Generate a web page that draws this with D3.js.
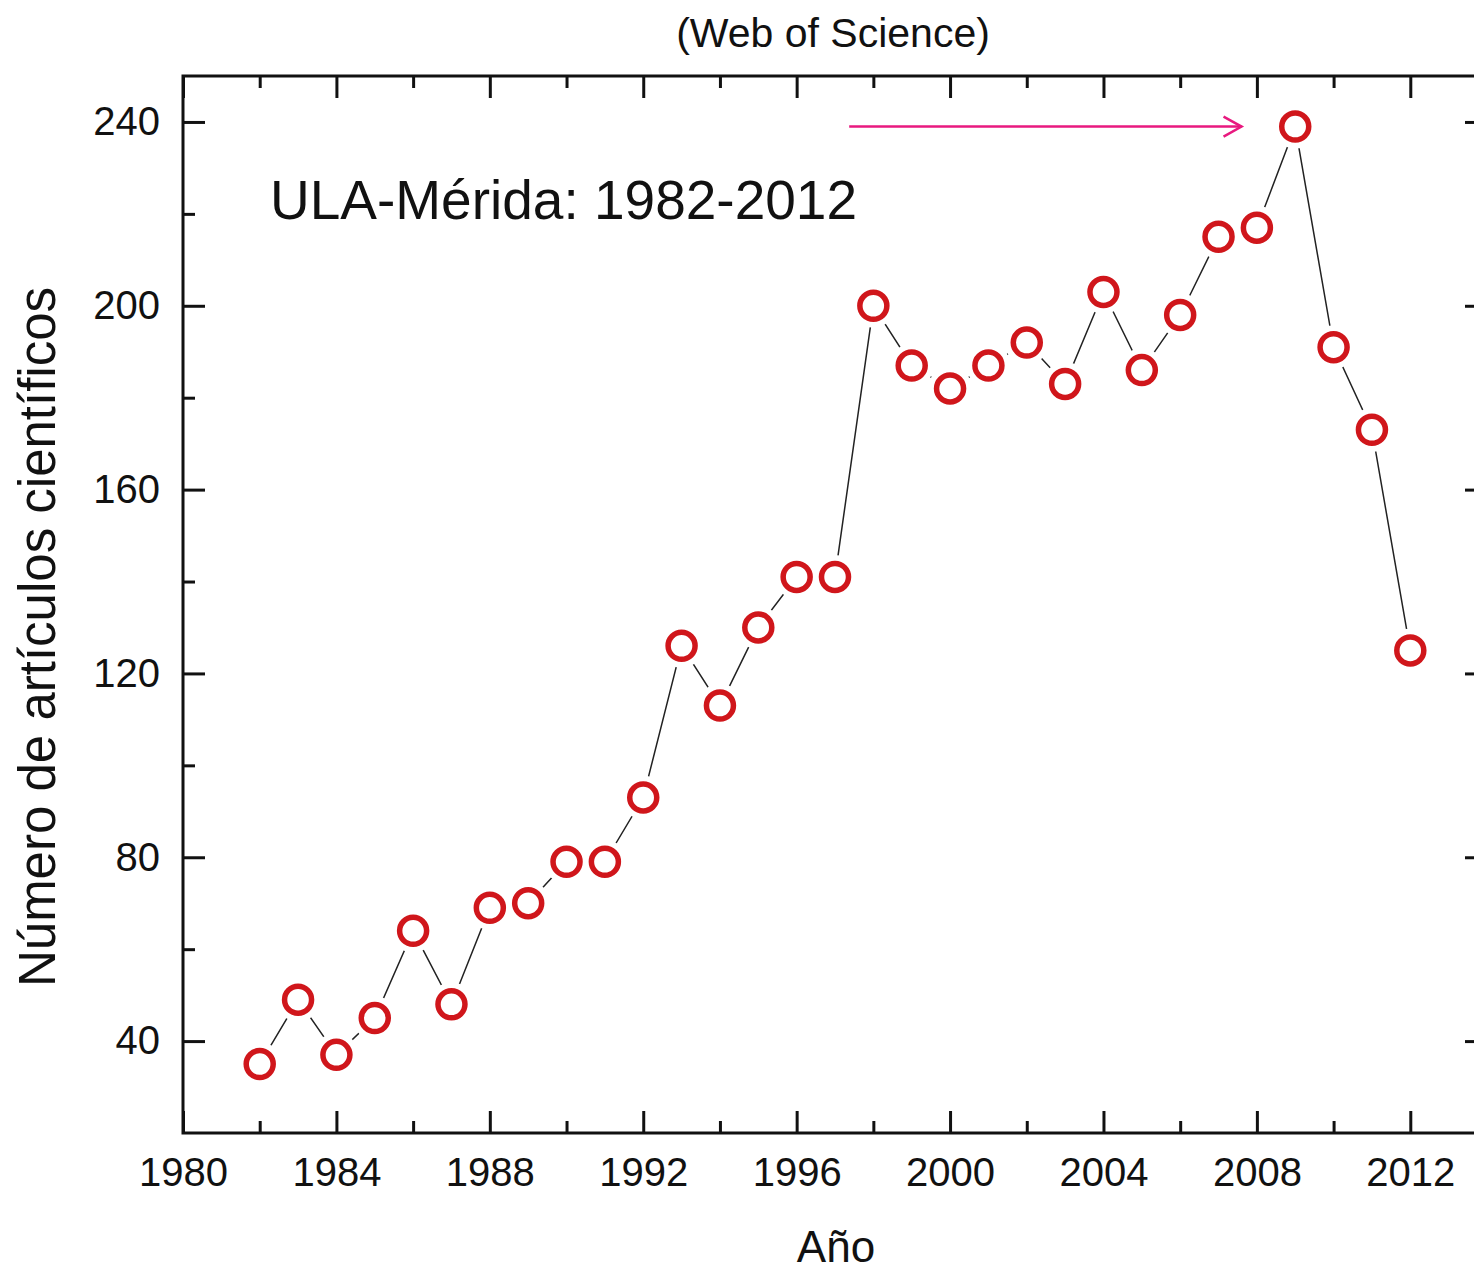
<!DOCTYPE html>
<html>
<head>
<meta charset="utf-8">
<script src="https://cdn.jsdelivr.net/npm/d3@7"></script>
<style>
  html, body { margin: 0; padding: 0; background: #fff; }
  svg { display: block; }
  text { font-family: "Liberation Sans", Arial, sans-serif; fill: #111; }
</style>
</head>
<body>
<svg id="chart" width="1474" height="1273"></svg>
<script>
// ---- Data ----
const years = [1982,1983,1984,1985,1986,1987,1988,1989,1990,1991,1992,1993,1994,1995,1996,1997,
               1998,1999,2000,2001,2002,2003,2004,2005,2006,2007,2008,2009,2010,2011,2012];
const articles = [35,49,37,45,64,48,69,70,79,79,93,126,113,130,141,141,
                  200,187,182,187,192,183,203,186,198,215,217,239,191,173,125];
const xMajorTicks = [1980,1984,1988,1992,1996,2000,2004,2008,2012];
const xMinorTicks = [1982,1986,1990,1994,1998,2002,2006,2010];
const yMajorTicks = [40,80,120,160,200,240];
const yMinorTicks = [60,100,140,180,220];
const xDomain = [1980, 2014];
const yDomain = [20, 250];
const titleText = "(Web of Science)";
const annotationText = "ULA-Mérida: 1982-2012";
const xLabel = "Año";
const yLabel = "Número de artículos científicos";
const arrowFromYear = 1997.37, arrowToYear = 2007.6, arrowValue = 239;

// ---- Layout ----
const mLeft = 183, mTop = 76, mRight = 1487, mBottom = 1133;
const svg = d3.select("#chart");
const x = d3.scaleLinear().domain(xDomain).range([mLeft, mRight]);
const y = d3.scaleLinear().domain(yDomain).range([mBottom, mTop]);

const MAJ = 22, MIN = 12;
function styleAxis(g) {
  g.select(".domain").remove();
  g.selectAll(".tick line").attr("stroke", "#111").attr("stroke-width", 3);
}

// bottom axis with labels
svg.append("g").attr("transform", `translate(0,${mBottom})`)
  .call(d3.axisBottom(x).tickValues(xMajorTicks).tickFormat(d3.format("d")).tickSize(-MAJ).tickPadding(25))
  .call(styleAxis)
  .call(g => g.selectAll("text").attr("font-size", 40).attr("fill", "#111")
                .attr("font-family", "Liberation Sans, Arial, sans-serif"));
svg.append("g").attr("transform", `translate(0,${mBottom})`)
  .call(d3.axisBottom(x).tickValues(xMinorTicks).tickFormat("").tickSize(-MIN))
  .call(styleAxis);
// top axis
svg.append("g").attr("transform", `translate(0,${mTop})`)
  .call(d3.axisTop(x).tickValues(xMajorTicks).tickFormat("").tickSize(-MAJ))
  .call(styleAxis);
svg.append("g").attr("transform", `translate(0,${mTop})`)
  .call(d3.axisTop(x).tickValues(xMinorTicks).tickFormat("").tickSize(-MIN))
  .call(styleAxis);
// left axis with labels
svg.append("g").attr("transform", `translate(${mLeft},0)`)
  .call(d3.axisLeft(y).tickValues(yMajorTicks).tickFormat(d3.format("d")).tickSize(-MAJ).tickPadding(23))
  .call(styleAxis)
  .call(g => g.selectAll("text").attr("font-size", 40).attr("fill", "#111")
                .attr("font-family", "Liberation Sans, Arial, sans-serif"));
svg.append("g").attr("transform", `translate(${mLeft},0)`)
  .call(d3.axisLeft(y).tickValues(yMinorTicks).tickFormat("").tickSize(-MIN))
  .call(styleAxis);
// right axis
svg.append("g").attr("transform", `translate(${mRight},0)`)
  .call(d3.axisRight(y).tickValues(yMajorTicks).tickFormat("").tickSize(-MAJ))
  .call(styleAxis);
svg.append("g").attr("transform", `translate(${mRight},0)`)
  .call(d3.axisRight(y).tickValues(yMinorTicks).tickFormat("").tickSize(-MIN))
  .call(styleAxis);

// frame
svg.append("rect").attr("x", mLeft).attr("y", mTop)
  .attr("width", mRight - mLeft).attr("height", mBottom - mTop)
  .attr("fill", "none").attr("stroke", "#111").attr("stroke-width", 3);

// data
const data = years.map((yr, i) => ({ yr, v: articles[i] }));
const line = d3.line().x(d => x(d.yr)).y(d => y(d.v));
svg.append("path").datum(data).attr("d", line)
  .attr("fill", "none").attr("stroke", "#222").attr("stroke-width", 1.5);
// white halos to create gaps
svg.append("g").selectAll("circle").data(data).join("circle")
  .attr("cx", d => x(d.yr)).attr("cy", d => y(d.v)).attr("r", 22)
  .attr("fill", "#fff");
svg.append("g").selectAll("circle").data(data).join("circle")
  .attr("cx", d => x(d.yr)).attr("cy", d => y(d.v)).attr("r", 13.5)
  .attr("fill", "#fff").attr("stroke", "#d0161b").attr("stroke-width", 5.5);

// arrow
const ax1 = x(arrowFromYear), ax2 = x(arrowToYear), ay = y(arrowValue);
svg.append("line").attr("x1", ax1).attr("x2", ax2).attr("y1", ay).attr("y2", ay)
  .attr("stroke", "#e8197f").attr("stroke-width", 2.5);
svg.append("path")
  .attr("d", `M${ax2 - 18},${ay - 10} L${ax2},${ay} L${ax2 - 18},${ay + 10}`)
  .attr("fill", "none").attr("stroke", "#e8197f").attr("stroke-width", 2.5);

// texts
svg.append("text").attr("x", 833).attr("y", 47).attr("text-anchor", "middle")
  .attr("font-size", 41).text(titleText);
svg.append("text").attr("x", 270).attr("y", 219)
  .attr("font-size", 55).text(annotationText);
svg.append("text").attr("x", 836).attr("y", 1262).attr("text-anchor", "middle")
  .attr("font-size", 44).text(xLabel);
svg.append("text").attr("transform", `translate(55,637) rotate(-90)`)
  .attr("text-anchor", "middle").attr("font-size", 51).text(yLabel);
</script>
</body>
</html>
